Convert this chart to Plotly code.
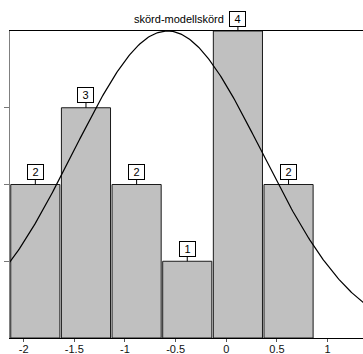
import numpy as np
import plotly.graph_objects as go

# Histogram of yield residuals (skörd - modellskörd)
bin_start = -2.135
bin_width = 0.5
counts = [2, 3, 2, 1, 4, 2]

# Fitted normal curve drawn over the histogram
fit_mean = -0.58
fit_sd = 0.93
fit_peak = 4.0

tick_vals = [-2, -1.5, -1, -0.5, 0, 0.5, 1]
tick_text = ["-2", "-1.5", "-1", "-0.5", "0", "0.5", "1"]
title_text = "skörd-modellskörd"

centers = [bin_start + bin_width * (i + 0.5) for i in range(len(counts))]

x_lo = bin_start
x_hi = 1.35
xs = np.linspace(x_lo - 0.05, x_hi + 0.05, 300)
ys = fit_peak * np.exp(-((xs - fit_mean) ** 2) / (2 * fit_sd ** 2))

FONT = "Arial, Liberation Sans, sans-serif"

fig = go.Figure()
fig.add_trace(go.Bar(
    x=centers, y=counts, width=bin_width * 0.97,
    marker=dict(color="#c0c0c0", line=dict(color="#1a1a1a", width=1)),
    hoverinfo="skip",
))
fig.add_trace(go.Scatter(
    x=xs, y=ys, mode="lines",
    line=dict(color="black", width=1.2),
    hoverinfo="skip",
))

annotations = []
for cx, c in zip(centers, counts):
    annotations.append(dict(
        x=cx, y=c, xref="x", yref="y",
        text=str(c), showarrow=True, arrowhead=0, arrowwidth=1,
        arrowcolor="black", ax=0, ay=-12.5, standoff=0,
        font=dict(family=FONT, size=11, color="black"),
        bgcolor="white", bordercolor="black", borderwidth=1,
        borderpad=1, width=13, height=12,
    ))
annotations.append(dict(
    x=(226 - 10) / 353, y=1, xref="paper", yref="paper",
    xanchor="right", yanchor="middle", yshift=12,
    text=title_text, showarrow=False,
    font=dict(family=FONT, size=11, color="black"),
))

fig.update_layout(
    width=363, height=354,
    margin=dict(l=10, r=0, t=31, b=16),
    paper_bgcolor="white", plot_bgcolor="white",
    showlegend=False,
    annotations=annotations,
    font=dict(family=FONT, size=11, color="#111"),
    xaxis=dict(
        range=[x_lo, x_hi], tickvals=tick_vals, ticktext=tick_text,
        ticks="outside", ticklen=3, tickcolor="#555",
        ticklabelstandoff=-2,
        showline=True, linecolor="black", linewidth=1, mirror=True,
        showgrid=False, zeroline=False,
        tickfont=dict(family=FONT, size=11, color="#111"),
    ),
    yaxis=dict(
        range=[0, 4], tickvals=[1, 2, 3], showticklabels=False,
        ticks="outside", ticklen=5, tickcolor="#777",
        showline=True, linecolor="#808080", linewidth=1,
        showgrid=False, zeroline=False,
    ),
)

fig.write_html("out.html")
